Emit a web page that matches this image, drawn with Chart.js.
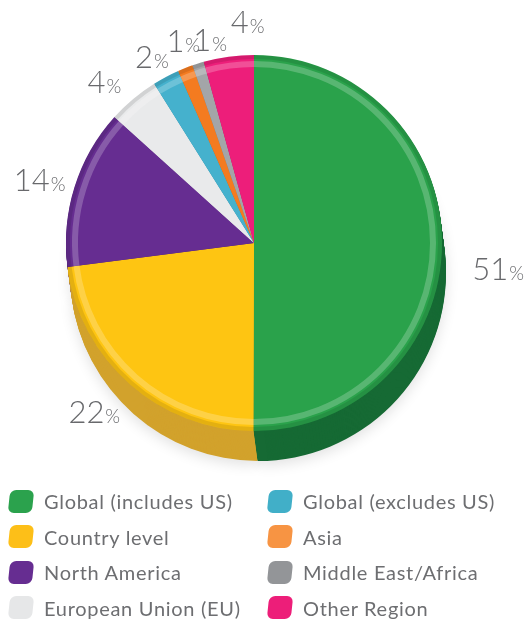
<!DOCTYPE html>
<html>
<head>
<meta charset="utf-8">
<script src="https://cdn.jsdelivr.net/npm/chart.js@4"></script>
<style>
body { margin: 0; background: #fff; width: 524px; height: 620px; overflow: hidden; font-family: Lato, sans-serif; }
#wrap { position: absolute; left: 0; top: 0; width: 524px; height: 480px; }
#legend { position: absolute; left: 0; top: 0; width: 524px; height: 620px; pointer-events: none; }
.item { position: absolute; height: 34px; display: flex; align-items: center; color: #6d6e71; font-size: 20px; letter-spacing: 0.7px; white-space: nowrap; }
.box { width: 24px; height: 23px; border-radius: 6px; transform: skewX(-6deg); margin-right: 11px; }
</style>
</head>
<body>
<div id="wrap"><canvas id="pie"></canvas></div>
<div id="legend"></div>
<script>
var regions = ['Global (includes US)', 'Country level', 'North America', 'European Union (EU)',
  'Global (excludes US)', 'Asia', 'Middle East/Africa', 'Other Region'];
// slice sizes as drawn in the picture (the printed labels are rounded)
var shares = [50, 22.9, 13.7, 4.4, 2.3, 1.3, 1.0, 4.3];
var shareLabels = ['51', '22', '14', '4', '2', '1', '1', '4'];
var faceColors = ['#2aa24b', '#fec512', '#662d91', '#e9eaeb', '#45b1cd', '#f47b20', '#a3a5a8', '#ed1e7a'];
var sideColors = ['#166a34', '#d2a22c', '#4a1f6e', '#c9cacb', '#2f8ba3', '#c5621a', '#7a7b7e', '#b3155d'];
var legendColors = ['#2ba24d', '#fdbf18', '#662d91', '#e6e7e8', '#41afc8', '#f79443', '#939598', '#ed1e79'];

// nudges for the labels (degrees off mid angle, px past the rim)
var labelNudge = [[6, 57], [2, 45], [-1, 36], [-3, 32], [-1, 24], [2, 26], [5, 20], [6, 33]];

var depthPlugin = {
  id: 'pieDepth',
  beforeDatasetsDraw: function(chart) {
    var ctx = chart.ctx;
    var arcs = chart.getDatasetMeta(0).data;
    var depth = 30, shiftX = 4;
    ctx.save();
    for (var d = depth; d >= 1; d--) {
      for (var i = 0; i < arcs.length; i++) {
        var a = arcs[i];
        var ox = a.x + shiftX * d / depth, oy = a.y + d;
        if (d == depth) {
          ctx.shadowColor = 'rgba(0,0,0,0.12)';
          ctx.shadowBlur = 14;
          ctx.shadowOffsetY = 4;
        } else {
          ctx.shadowColor = 'transparent';
        }
        ctx.beginPath();
        ctx.moveTo(ox, oy);
        ctx.arc(ox, oy, a.outerRadius, a.startAngle, a.endAngle);
        ctx.closePath();
        ctx.fillStyle = sideColors[i];
        ctx.fill();
      }
    }
    ctx.restore();
  },
  afterDatasetsDraw: function(chart) {
    var ctx = chart.ctx;
    var arcs = chart.getDatasetMeta(0).data;
    ctx.save();
    // rim shading on the top face
    for (var i = 0; i < arcs.length; i++) {
      var a = arcs[i];
      ctx.beginPath();
      ctx.arc(a.x, a.y, a.outerRadius - 9, a.startAngle, a.endAngle);
      ctx.strokeStyle = 'rgba(255,255,255,0.22)';
      ctx.lineWidth = 6;
      ctx.stroke();
      ctx.beginPath();
      ctx.arc(a.x, a.y, a.outerRadius - 2, a.startAngle, a.endAngle);
      ctx.strokeStyle = 'rgba(0,0,0,0.10)';
      ctx.lineWidth = 4;
      ctx.stroke();
    }
    // percentage labels
    ctx.fillStyle = '#68696c';
    ctx.textBaseline = 'alphabetic';
    for (var j = 0; j < arcs.length; j++) {
      var b = arcs[j];
      var mid = (b.startAngle + b.endAngle) / 2 + labelNudge[j][0] * Math.PI / 180;
      var dist = b.outerRadius + labelNudge[j][1];
      var x = b.x + Math.cos(mid) * dist, y = b.y + Math.sin(mid) * dist;
      ctx.font = '300 31px Lato, sans-serif';
      var w1 = ctx.measureText(shareLabels[j]).width;
      ctx.font = '300 19px Lato, sans-serif';
      var w2 = ctx.measureText('%').width;
      var sx = x - (w1 + w2) / 2;
      ctx.font = '300 31px Lato, sans-serif';
      ctx.fillText(shareLabels[j], sx, y + 11);
      ctx.font = '300 19px Lato, sans-serif';
      ctx.fillText('%', sx + w1 + 1, y + 11);
    }
    ctx.restore();
  }
};

new Chart(document.getElementById('pie'), {
  type: 'pie',
  data: {
    labels: regions,
    datasets: [{
      data: shares,
      backgroundColor: faceColors,
      borderWidth: 0
    }]
  },
  options: {
    responsive: true,
    maintainAspectRatio: false,
    animation: false,
    layout: { padding: { left: 66, right: 82, top: 55, bottom: 49 } },
    plugins: {
      legend: { display: false },
      tooltip: { enabled: false }
    }
  },
  plugins: [depthPlugin]
});

var legend = document.getElementById('legend');
regions.forEach(function(name, k) {
  var col = k < 4 ? 0 : 1, row = k % 4;
  var el = document.createElement('div');
  el.className = 'item';
  el.style.left = (col ? 268 : 9) + 'px';
  el.style.top = (484 + row * 35.5) + 'px';
  el.innerHTML = '<span class="box" style="background:' + legendColors[k] + '"></span>' + name;
  legend.appendChild(el);
});
</script>
</body>
</html>
